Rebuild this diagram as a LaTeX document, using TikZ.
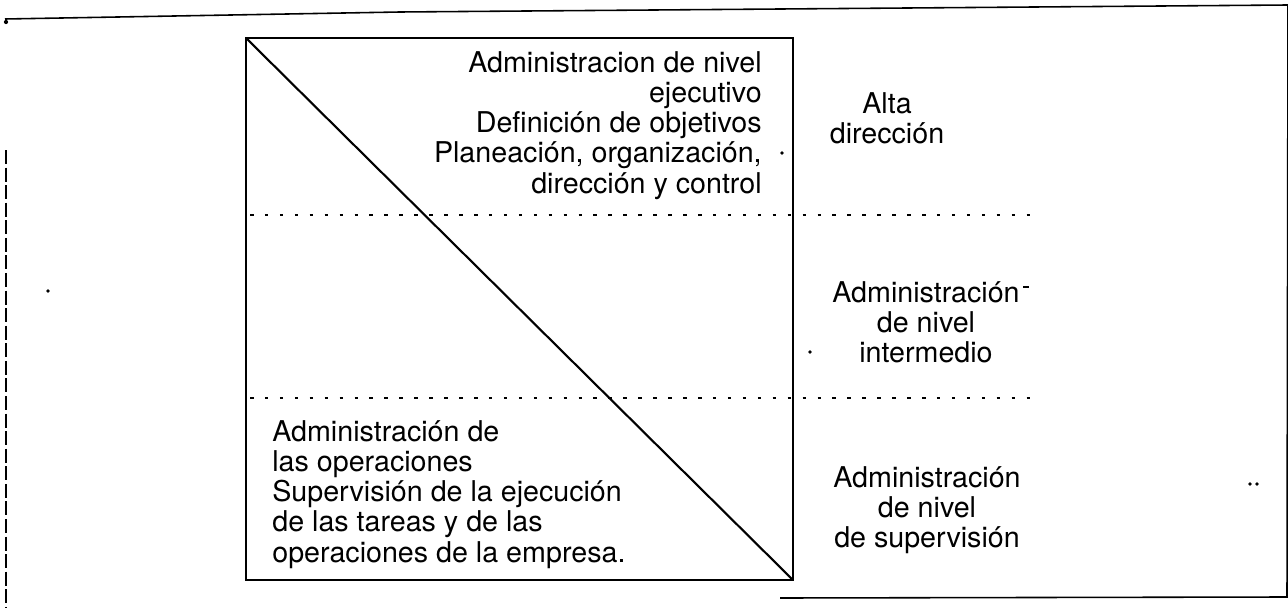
\documentclass[tikz,border=0pt]{standalone}
\usepackage{fontspec}
\setmainfont{TeX Gyre Heros}
\usetikzlibrary{positioning}

\begin{document}
\begin{tikzpicture}[
    x=0.02cm, y=-0.02cm,
    txt/.style={inner sep=0pt, font=\fontsize{16.3}{17.2}\selectfont},
    level/.style={txt, align=center, anchor=north},
    frame/.style={draw, line width=0.9pt},
    divline/.style={draw, line width=0.8pt, dash pattern=on 2pt off 6.5pt},
    speck/.style={fill, circle, inner sep=0pt, minimum size=2.2pt}]

    \useasboundingbox (0,0) rectangle (1288,608);

    % Scanned outer frame
    \draw[frame] (5,19) -- (400,12) -- (1288,5) -- (1287,597) -- (780,598);
    \draw[frame, dash pattern=on 8pt off 2pt] (6,150) -- (6,608);
    \fill (6,22) circle (1.2pt);

    % Main box and its diagonal
    \coordinate (tl) at (246,38);
    \coordinate (br) at (793,580);
    \draw[line width=1.3pt] (tl) rectangle (br);
    \draw[line width=1.2pt] (tl) -- (br);

    % Level dividers
    \coordinate (d1a) at (250,215);
    \coordinate (d1b) at (1030,215);
    \coordinate (d2a) at (250,398);
    \coordinate (d2b) at (1040,398);
    \path[divline] (d1a) -- (d1b);
    \path[divline] (d2a) -- (d2b);

    % Texts inside the box
    \node[txt, align=right, anchor=north east] (exec) at (762,51)
        {Administracion de nivel\\ejecutivo\\Definición de objetivos\\Planeación, organización,\\dirección y control};
    \node[txt, align=left, anchor=north west] (oper) at (272,420)
        {Administración de\\las operaciones\\Supervisión de la ejecución\\de las tareas y de las\\operaciones de la empresa.};

    % Level names
    \node[level] (alta) at (887,92) {Alta\\dirección};
    \node[level] (inter) at (926,281) {Administración\\de nivel\\intermedio};
    \node[level] (super) at (927,466) {Administración\\de nivel\\de supervisión};

    % Specks of the scan
    \node[speck] (s1) at (782,153) {};
    \node[speck] (s2) at (48,291) {};
    \node[speck] (s3) at (810,352) {};
    \draw[line width=0.8pt] (1023,287) -- (1029,287);
    \node[speck] (s5) at (1250,484) {};
    \node[speck] (s6) at (1257,484) {};
\end{tikzpicture}
\end{document}
